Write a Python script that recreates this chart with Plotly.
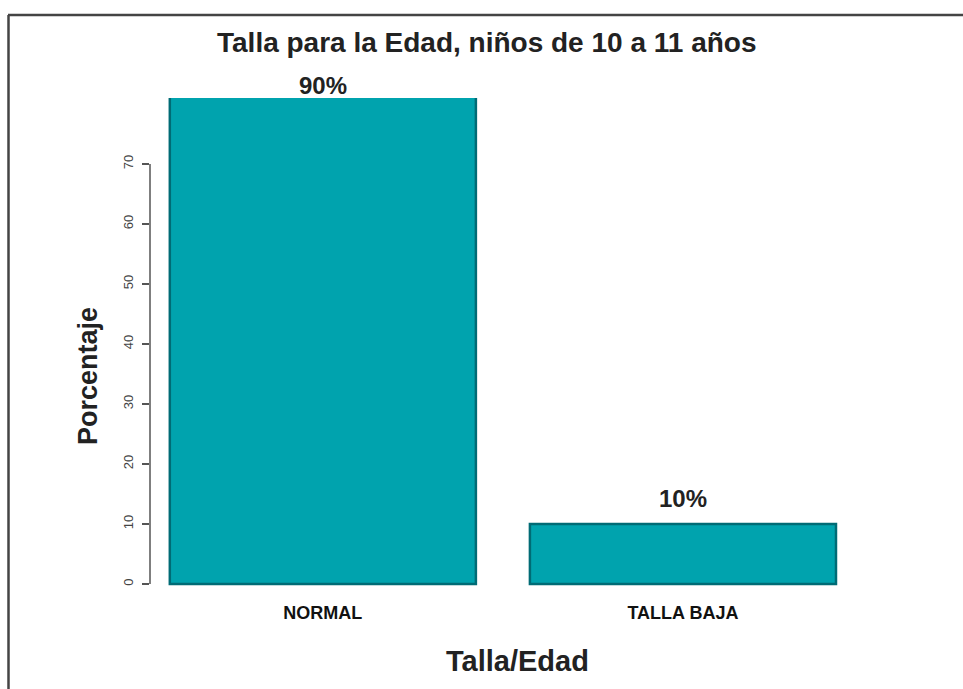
import plotly.graph_objects as go

# Data
categorias = ["NORMAL", "TALLA BAJA"]
porcentajes = [90, 10]
y_ticks = [0, 10, 20, 30, 40, 50, 60, 70]

W, H = 963, 689
L, R, T, B = 150, 100, 98, 99
Y_MAX = 81
plot_w = W - L - R
plot_h = H - T - B

def px_x(px):
    return (px - L) / plot_w

def px_y(py):
    return (H - B - py) / plot_h

FONT = "Liberation Sans, Arial, sans-serif"
fill = "#00A3AE"
edge = "#006B75"

fig = go.Figure(
    go.Bar(
        x=categorias,
        y=porcentajes,
        marker=dict(color=fill, line=dict(color=edge, width=2.5)),
        width=0.85,
        hoverinfo="skip",
    )
)

# Value labels above each bar (bars taller than the axis are clipped at the top)
annotations = []
for cat, val in zip(categorias, porcentajes):
    clipped = val > Y_MAX
    annotations.append(dict(
        x=cat, y=min(val, Y_MAX), xref="x", yref="y",
        text=f"<b>{val}%</b>", showarrow=False,
        yanchor="bottom", yshift=-3 if clipped else 10,
        font=dict(family=FONT, size=24, color="#222222"),
    ))

# Axis titles and chart title placed explicitly
annotations.append(dict(
    x=px_x(88), y=px_y(376), xref="paper", yref="paper",
    text="<b>Porcentaje</b>", showarrow=False, textangle=-90,
    xanchor="center", yanchor="middle",
    font=dict(family=FONT, size=27, color="#222222"),
))
annotations.append(dict(
    x=px_x(517), y=px_y(661), xref="paper", yref="paper",
    text="<b>Talla/Edad</b>", showarrow=False,
    xanchor="center", yanchor="middle",
    font=dict(family=FONT, size=29, color="#222222"),
))
annotations.append(dict(
    x=px_x(486), y=px_y(43), xref="paper", yref="paper",
    text="<b>Talla para la Edad, niños de 10 a 11 años</b>", showarrow=False,
    xanchor="center", yanchor="middle",
    font=dict(family=FONT, size=28, color="#222222"),
))

shapes = [
    # y axis line spanning only the ticked range
    dict(type="line", xref="paper", yref="y", x0=0, x1=0, y0=0, y1=70,
         line=dict(color="#555555", width=1.5)),
    # frame around the figure (top and left edges)
    dict(type="line", xref="paper", yref="paper", x0=px_x(8), x1=px_x(970),
         y0=px_y(15), y1=px_y(15), line=dict(color="#444444", width=2.5)),
    dict(type="line", xref="paper", yref="paper", x0=px_x(8.5), x1=px_x(8.5),
         y0=px_y(15), y1=px_y(700), line=dict(color="#444444", width=2.5)),
]

fig.update_layout(
    width=W, height=H,
    margin=dict(l=L, r=R, t=T, b=B),
    paper_bgcolor="white", plot_bgcolor="white",
    showlegend=False,
    bargap=0.15,
    xaxis=dict(
        range=[-0.48, 1.5],
        showline=False, showgrid=False, zeroline=False,
        ticks="", ticklabelstandoff=10,
        tickfont=dict(family=FONT, size=18, color="#111111"),
        tickvals=categorias,
        ticktext=[f"<b>{c}</b>" for c in categorias],
    ),
    yaxis=dict(
        range=[-1, Y_MAX],
        showline=False, showgrid=False, zeroline=False,
        tickvals=y_ticks,
        ticks="outside", ticklen=7, tickwidth=1.5, tickcolor="#555555",
        tickangle=-90, ticklabelstandoff=4,
        tickfont=dict(family=FONT, size=13, color="#444444"),
    ),
    annotations=annotations,
    shapes=shapes,
)

fig.write_html("out.html")
